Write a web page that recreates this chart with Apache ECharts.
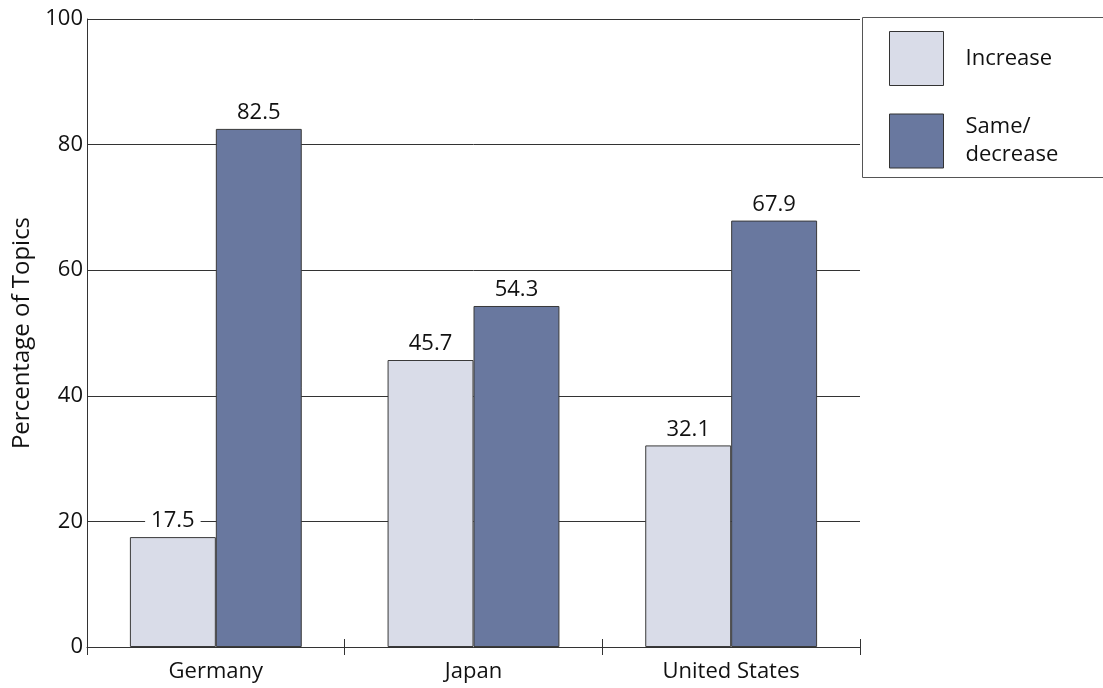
<!DOCTYPE html>
<html><head><meta charset="utf-8">
<script src="https://cdn.jsdelivr.net/npm/echarts@6/dist/echarts.min.js"></script>
<style>html,body{margin:0;padding:0;background:#fff}#c{width:1103px;height:688px}</style>
</head><body><div id="c"></div>
<script>
const categories = ['Germany', 'Japan', 'United States'];
const increase = [17.5, 45.7, 32.1];
const sameDecrease = [82.5, 54.3, 67.9];
const yTicks = [0, 20, 40, 60, 80, 100];

const FONT = 'Open Sans';
const chart = echarts.init(document.getElementById('c'), null, {renderer: 'canvas'});
const labelCfg = {
  show: true, position: 'top', distance: 5,
  fontFamily: FONT, fontSize: 22, color: '#111',
  backgroundColor: '#fff', padding: [0, 6, 0, 6],
  formatter: p => p.value.toFixed(1)
};
chart.setOption({
  animation: false,
  textStyle: {fontFamily: FONT},
  grid: {left: 87, right: 243, top: 19, bottom: 41, containLabel: false},
  legend: {
    orient: 'vertical', left: 889, top: 31,
    itemWidth: 54, itemHeight: 54, itemGap: 27,
    padding: 0,
    textStyle: {fontFamily: FONT, fontSize: 22, color: '#111', lineHeight: 28, padding: [0, 0, 0, 17]},
    data: [{name: 'Increase', icon: 'rect'}, {name: 'Same/\ndecrease', icon: 'rect'}],
    itemStyle: {borderColor: '#333', borderWidth: 1}
  },
  graphic: [{
    type: 'rect', shape: {x: 862.5, y: 17.5, width: 260, height: 160},
    style: {fill: 'none', stroke: '#555', lineWidth: 1}, z: 0
  }],
  xAxis: [{
    type: 'category', data: categories,
    axisLine: {show: true, lineStyle: {color: '#333', width: 1}},
    axisTick: {show: true, length: 8, lineStyle: {color: '#333'}},
    axisLabel: {fontFamily: FONT, fontSize: 22, color: '#111', margin: 14}
  }, {
    type: 'category', data: categories, position: 'bottom',
    axisLine: {show: false},
    axisTick: {show: true, inside: true, length: 8, lineStyle: {color: '#333'}},
    axisLabel: {show: false}
  }],
  yAxis: {
    type: 'value', min: 0, max: 100, interval: 20,
    name: 'Percentage of Topics', nameLocation: 'middle', nameGap: 52,
    nameTextStyle: {fontFamily: FONT, fontSize: 24, color: '#111'},
    axisLine: {show: true, lineStyle: {color: '#333', width: 1}},
    axisTick: {show: false},
    axisLabel: {fontFamily: FONT, fontSize: 22, color: '#111', margin: 4,
      formatter: v => yTicks.includes(v) ? String(v) : ''},
    splitLine: {show: true, lineStyle: {color: '#333', width: 1}}
  },
  series: [{
    name: 'Increase', type: 'bar', data: increase, barGap: '0%', barCategoryGap: '33.3%',
    itemStyle: {color: '#d9dce8', borderColor: '#3a3a3a', borderWidth: 1},
    label: labelCfg
  }, {
    name: 'Same/\ndecrease', type: 'bar', data: sameDecrease,
    itemStyle: {color: '#69789f', borderColor: '#3a3a3a', borderWidth: 1},
    label: labelCfg
  }]
});
</script></body></html>
